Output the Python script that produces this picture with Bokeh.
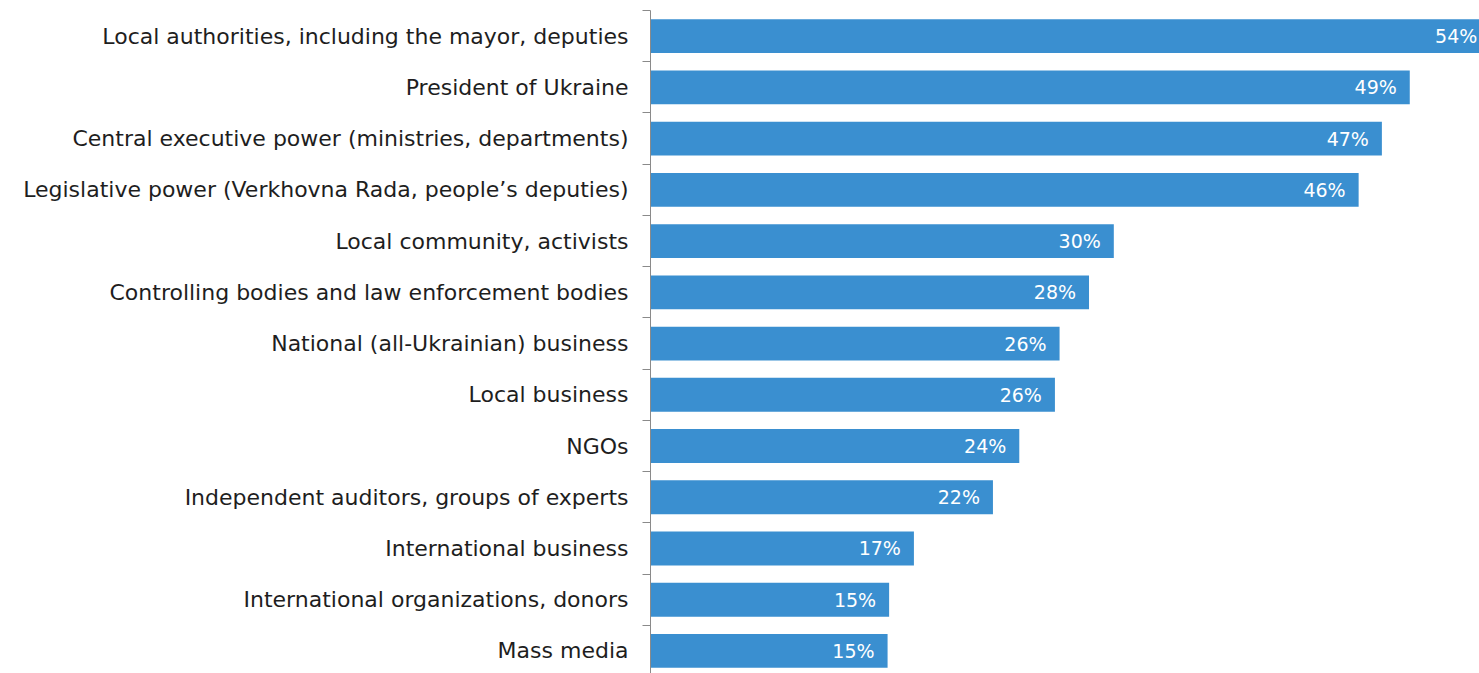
from bokeh.plotting import figure
from bokeh.models import ColumnDataSource, Range1d, FixedTicker
from bokeh.core.properties import value
from bokeh.embed import file_html
from bokeh.resources import INLINE

categories = [
    "Local authorities, including the mayor, deputies",
    "President of Ukraine",
    "Central executive power (ministries, departments)",
    "Legislative power (Verkhovna Rada, people\u2019s deputies)",
    "Local community, activists",
    "Controlling bodies and law enforcement bodies",
    "National (all-Ukrainian) business",
    "Local business",
    "NGOs",
    "Independent auditors, groups of experts",
    "International business",
    "International organizations, donors",
    "Mass media",
]
values = [54.2, 49.0, 47.2, 45.7, 29.9, 28.3, 26.4, 26.1, 23.8, 22.1, 17.0, 15.4, 15.3]
value_labels = ["54%", "49%", "47%", "46%", "30%", "28%", "26%", "26%", "24%", "22%", "17%", "15%", "15%"]

FONT = "DejaVu Sans"
pos = list(range(len(categories)))

src = ColumnDataSource(dict(y=pos, v=values, lab=value_labels))

p = figure(width=1479, height=673, output_backend="svg", toolbar_location=None,
           x_range=Range1d(0, 53.5), y_range=Range1d(12.44, -0.5),
           min_border_left=650, min_border_right=0, min_border_top=10, min_border_bottom=0,
           x_axis_location=None)
p.outline_line_color = None
p.grid.visible = False
p.background_fill_color = "white"
p.border_fill_color = "white"

p.hbar(y="y", right="v", left=0, height=0.66, source=src, color="#3a8fd0", line_color=None)
p.text(x="v", y="y", text="lab", source=src, x_offset=-13, text_align="right",
       text_baseline="middle", text_color="white", text_font=value(FONT),
       text_font_size="19px")

ya = p.yaxis[0]
ya.ticker = FixedTicker(ticks=pos, minor_ticks=[i - 0.5 for i in range(len(categories) + 1)])
ya.major_label_overrides = {i: c for i, c in enumerate(categories)}
ya.major_tick_out = 0
ya.major_tick_in = 0
ya.minor_tick_out = 8
ya.minor_tick_in = 0
ya.minor_tick_line_color = "#8a8a8a"
ya.axis_line_color = "#8a8a8a"
ya.major_label_standoff = 14
ya.major_label_text_font = FONT
ya.major_label_text_font_size = "22px"
ya.major_label_text_color = "#1e1e1e"

open("out.html", "w").write(file_html(p, INLINE))
